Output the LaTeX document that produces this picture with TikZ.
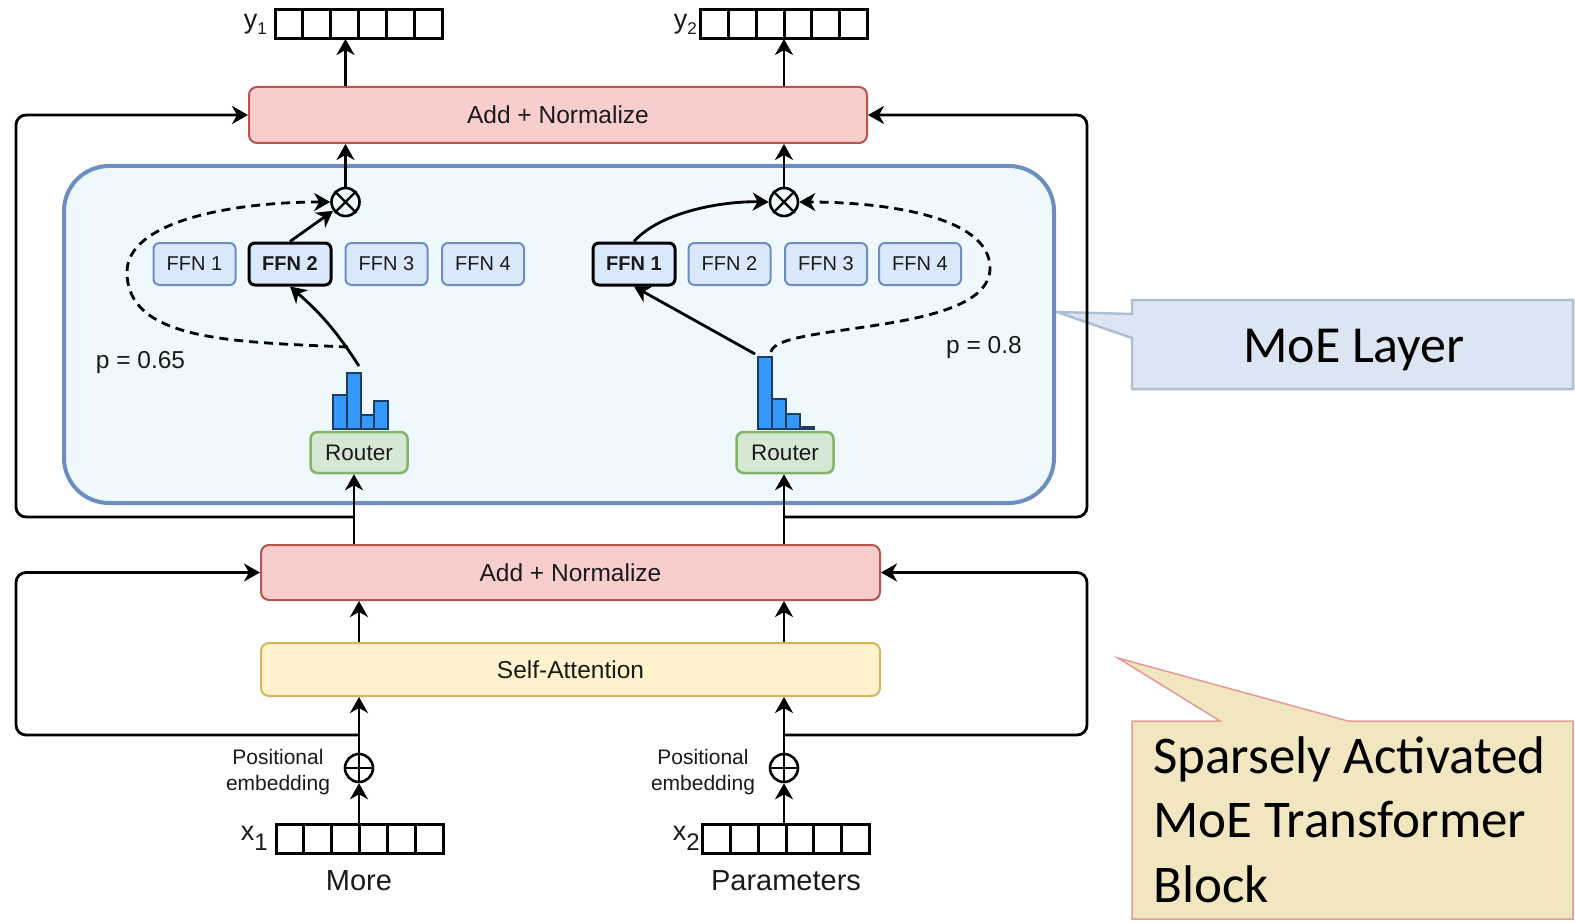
\documentclass[tikz,border=0pt]{standalone}
\usepackage{fontspec}
\setmainfont{Liberation Sans}
\newfontfamily\calfont{Carlito}
\usetikzlibrary{arrows.meta,calc}

\definecolor{pinkfill}{HTML}{F8CECC}
\definecolor{pinkdraw}{HTML}{B85450}
\definecolor{yellowfill}{HTML}{FFF2CC}
\definecolor{yellowdraw}{HTML}{D6B656}
\definecolor{greenfill}{HTML}{D5E8D4}
\definecolor{greendraw}{HTML}{82B366}
\definecolor{ffnfill}{HTML}{DAE8FC}
\definecolor{ffndraw}{HTML}{6C8EBF}
\definecolor{moefill}{HTML}{EEF8FD}
\definecolor{moedraw}{HTML}{6C8EBF}
\definecolor{histfill}{HTML}{3399FF}
\definecolor{histdraw}{HTML}{1C3D5E}
\definecolor{noteblue}{HTML}{DCE6F2}
\definecolor{noteblueline}{HTML}{AFBFD2}
\definecolor{noteyellow}{HTML}{F0E7C0}
\definecolor{noteyellowline}{HTML}{E39A9A}
\definecolor{ink}{HTML}{1A1A1A}

\newcommand\fsz[1]{\fontsize{#1}{#1}\selectfont}

\tikzset{
  arr/.style={line width=2.8pt, -{Stealth[length=16pt,width=18pt,inset=5pt]}},
  dasharr/.style={arr, dash pattern=on 9pt off 6pt},
  addbox/.style={draw=pinkdraw, fill=pinkfill, line width=2pt, rounded corners=8pt,
    inner sep=0pt, text=ink, font=\fsz{24.5}},
  attbox/.style={draw=yellowdraw, fill=yellowfill, line width=2pt, rounded corners=8pt,
    inner sep=0pt, text=ink, font=\fsz{24.5}},
  ffnbox/.style={draw=ffndraw, fill=ffnfill, line width=2pt, rounded corners=6pt,
    minimum width=82pt, minimum height=42pt, inner sep=0pt, text=ink, font=\fsz{20}},
  ffnsel/.style={ffnbox, draw=black, line width=3pt, font=\fsz{20}\bfseries},
  routerbox/.style={draw=greendraw, fill=greenfill, line width=2.5pt, rounded corners=7pt,
    minimum width=97pt, minimum height=41pt, inner sep=0pt, text=ink, font=\fsz{22.5}},
  moebox/.style={draw=moedraw, fill=moefill, line width=4pt, rounded corners=45pt,
    minimum width=990pt, minimum height=337pt, inner sep=0pt},
  opnode/.style={circle, draw, line width=2.6pt, minimum size=28pt, inner sep=0pt},
  vecbox/.style={draw, line width=3pt, minimum width=167pt, minimum height=29pt,
    inner sep=0pt, outer sep=0pt,
    path picture={\foreach \i in {1,...,5}{
      \draw[line width=3pt]
        ($(path picture bounding box.south west)!\i/6!(path picture bounding box.south east)$) --
        ($(path picture bounding box.north west)!\i/6!(path picture bounding box.north east)$);}}},
  hist/.style={fill=histfill, draw=histdraw, line width=1.3pt},
  lbl/.style={inner sep=0pt, text=ink},
}

\begin{document}
\begin{tikzpicture}[x=1pt,y=-1pt]
\useasboundingbox (0,0) rectangle (1575,923);
\fill[white] (0,0) rectangle (1575,923);

% ---- side notes ----
\draw[draw=noteblueline, fill=noteblue, line width=2.5pt]
  (1132,300) -- (1573,300) -- (1573,389) -- (1132,389) -- (1132,338) -- (1057,312) -- (1132,314) -- cycle;
\node[lbl, font=\calfont\fsz{52}, anchor=base, text=black] (moenote) at (1354,362) {MoE Layer};

\draw[draw=noteyellowline, fill=noteyellow, line width=1.5pt]
  (1132,721) -- (1220,721) -- (1118,658) -- (1348,721) -- (1573,721) -- (1573,919) -- (1132,919) -- cycle;
\node[lbl, font=\calfont\fsz{53}, anchor=base west, text=black] (blk1) at (1153,773) {Sparsely Activated};
\node[lbl, font=\calfont\fsz{53}, anchor=base west, text=black] (blk2) at (1153,837) {MoE Transformer};
\node[lbl, font=\calfont\fsz{53}, anchor=base west, text=black] (blk3) at (1153,902) {Block};

% ---- MoE layer ----
\node[moebox] (moe) at (559,334.5) {};

% ---- main blocks ----
\node[addbox, minimum width=618pt, minimum height=56pt] (an1) at (558,115) {Add + Normalize};
\node[addbox, minimum width=619pt, minimum height=55pt] (an2) at (570.5,572.5) {Add + Normalize};
\node[attbox, minimum width=619pt, minimum height=53pt] (sa) at (570.5,669.5) {Self-Attention};

% ---- experts ----
\node[ffnbox] (ffnL1) at (194.5,264) {FFN 1};
\node[ffnsel] (ffnL2) at (290,264) {FFN 2};
\node[ffnbox] (ffnL3) at (386.5,264) {FFN 3};
\node[ffnbox] (ffnL4) at (483,264) {FFN 4};
\node[ffnsel] (ffnR1) at (634,264) {FFN 1};
\node[ffnbox] (ffnR2) at (729.5,264) {FFN 2};
\node[ffnbox] (ffnR3) at (826,264) {FFN 3};
\node[ffnbox] (ffnR4) at (920,264) {FFN 4};

% ---- routers and their gate distributions ----
\node[routerbox] (r1) at (359,452.5) {Router};
\node[routerbox] (r2) at (785,452.5) {Router};
\foreach \x/\t in {333/395, 347/373, 361/415, 374/401}
  \filldraw[hist] (\x,\t) rectangle (\x+14,429);
\foreach \x/\t in {758/357, 772/399, 786/414, 800/427}
  \filldraw[hist] (\x,\t) rectangle (\x+14,429);

% ---- combine nodes ----
\node[opnode] (o1) at (345.5,202) {};
\draw[line width=2.2pt] (o1.north east) -- (o1.south west) (o1.north west) -- (o1.south east);
\node[opnode] (o2) at (784,202) {};
\draw[line width=2.2pt] (o2.north east) -- (o2.south west) (o2.north west) -- (o2.south east);

\node[opnode] (p1) at (359,768) {};
\draw[line width=2.2pt] (p1.north) -- (p1.south) (p1.west) -- (p1.east);
\node[opnode] (p2) at (784,768) {};
\draw[line width=2.2pt] (p2.north) -- (p2.south) (p2.west) -- (p2.east);

% ---- token vectors ----
\node[vecbox] (y1vec) at (358.5,24.5) {};
\node[vecbox] (y2vec) at (784,24.5) {};
\node[vecbox] (x1vec) at (359.5,838.5) {};
\node[vecbox] (x2vec) at (786,838.5) {};

\node[lbl, anchor=base east] (y1lbl) at (267,29) {\fsz{27}y\raisebox{-5.5pt}{\fsz{17}1}};
\node[lbl, anchor=base east] (y2lbl) at (697,29) {\fsz{27}y\raisebox{-5.5pt}{\fsz{17}2}};
\node[lbl, anchor=base east] (x1lbl) at (268,840) {\fsz{27}x\raisebox{-10pt}{\fsz{24}1}};
\node[lbl, anchor=base east] (x2lbl) at (700,840) {\fsz{27}x\raisebox{-10pt}{\fsz{24}2}};

\node[lbl, font=\fsz{29}, anchor=base] (w1) at (359,890) {More};
\node[lbl, font=\fsz{29}, anchor=base] (w2) at (786,890) {Parameters};

\node[lbl, align=center, font=\fontsize{21}{26}\selectfont] (pe1) at (278,772.5) {Positional\\embedding};
\node[lbl, align=center, font=\fontsize{21}{26}\selectfont] (pe2) at (703,772.5) {Positional\\embedding};

\node[lbl, font=\fsz{24.5}, anchor=base] (pL) at (140.5,368) {p = 0.65};
\node[lbl, font=\fsz{24.5}, anchor=base] (pR) at (984,353) {p = 0.8};

% ---- helper points ----
\coordinate (tapL) at (354,517);
\coordinate (tapR) at (784,517);
\coordinate (tapL2) at (359,735);
\coordinate (tapR2) at (784,735);
\coordinate (railL) at (16,0);
\coordinate (railR) at (1087,0);
\coordinate (hL) at (359,366);
\coordinate (hR) at (755,354);
\coordinate (dL) at (348,347);
\coordinate (dR) at (771,352);

% ---- input side ----
\draw[arr] (x1vec.north -| p1) -- (p1.south);
\draw[arr] (x2vec.north -| p2) -- (p2.south);
\draw[arr] (p1.north) -- (p1.north |- sa.south);
\draw[arr] (p2.north) -- (p2.north |- sa.south);
\draw[arr] (sa.north -| p1) -- (an2.south -| p1);
\draw[arr] (sa.north -| p2) -- (an2.south -| p2);

% ---- residual connections ----
\draw[arr, rounded corners=10pt] (tapL2) -| (railL |- an2.west) -- (an2.west);
\draw[arr, rounded corners=10pt] (tapR2) -| (railR |- an2.east) -- (an2.east);
\draw[arr, rounded corners=10pt] (tapL) -| (railL |- an1.west) -- (an1.west);
\draw[arr, rounded corners=10pt] (tapR) -| (railR |- an1.east) -- (an1.east);

% ---- into the routers ----
\draw[arr] (an2.north -| tapL) -- (r1.south -| tapL);
\draw[arr] (an2.north -| tapR) -- (r2.south -| tapR);

% ---- routing ----
\draw[arr] (hL) to[bend right=8] (ffnL2.south);
\draw[arr] (hR) -- (ffnR1.south);
\draw[arr] (ffnL2.north) -- (o1);
\draw[arr] (ffnR1.north) .. controls (660,212) and (722,201) .. (o2.west);
\draw[dasharr] (dL) .. controls (230,342) and (127,340) .. (127,272)
  .. controls (127,222) and (230,202) .. (o1.west);
\draw[dasharr] (dR) .. controls (776,322) and (990,336) .. (990,268)
  .. controls (990,215) and (880,202) .. (o2.east);

% ---- outputs ----
\draw[arr] (o1.north) -- (o1.north |- an1.south);
\draw[arr] (o2.north) -- (o2.north |- an1.south);
\draw[arr] (an1.north -| o1) -- (y1vec.south -| o1);
\draw[arr] (an1.north -| o2) -- (y2vec.south -| o2);
\end{tikzpicture}
\end{document}
